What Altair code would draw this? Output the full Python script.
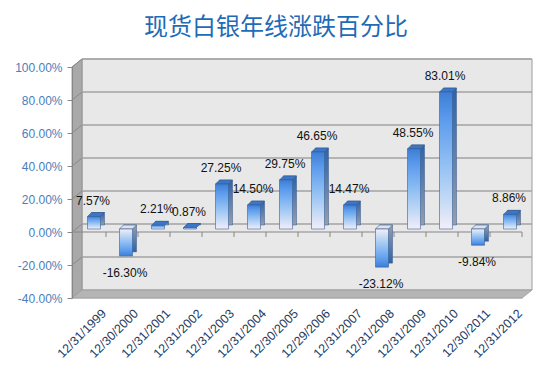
import altair as alt
import pandas as pd

# ---- data ----
dates = ["12/31/1999", "12/30/2000", "12/31/2001", "12/31/2002", "12/31/2003",
         "12/31/2004", "12/30/2005", "12/29/2006", "12/31/2007", "12/31/2008",
         "12/31/2009", "12/31/2010", "12/30/2011", "12/31/2012"]
pct = [7.57, -16.30, 2.21, 0.87, 27.25, 14.50, 29.75, 46.65, 14.47, -23.12,
       48.55, 83.01, -9.84, 8.86]
y_ticks = [-40, -20, 0, 20, 40, 60, 80, 100]
grid_levels = [-20, 0, 20, 40, 60, 80, 100]
title_text = "现货白银年线涨跌百分比"

# ---- geometry / style ----
W, H = 450, 231
DX, DY = 10, -8          # depth of the 3D box
FONT = "Liberation Sans"

df = pd.DataFrame({"date": dates, "v": pct})
df["top"] = df["v"].clip(lower=0)
df["label"] = [f"{v:.2f}%" for v in pct]

xscale = alt.Scale(domain=dates, range=[2, W], paddingInner=0, paddingOuter=0)
yscale = alt.Scale(domain=[-40, 100], nice=False, zero=False)

yaxis = alt.Axis(
    values=y_ticks, title=None, grid=False, zindex=1,
    labelExpr="(datum.value < 0 ? '-' : '') + format(abs(datum.value), '.2f') + '%'",
    domainColor="#868686", tickColor="#868686", tickSize=5, labelPadding=5,
    labelColor="#4a7ebb", labelFont=FONT, labelFontSize=12)
xaxis = alt.Axis(
    title=None, domain=False, ticks=False, labelAngle=-45, labelAlign="right",
    labelBaseline="middle", labelOffset=14, labelPadding=13, labelOverlap=False,
    labelColor="#1f3864", labelFont=FONT, labelFontSize=12.5)

X = alt.X("date:N", scale=xscale, axis=xaxis)
Y = alt.Y("v:Q", scale=yscale, axis=yaxis)

one = pd.DataFrame({"k": [0]})
grid_df = pd.DataFrame({"t": grid_levels})

# back wall
back = alt.Chart(one).mark_rect(fill="#e8e8e8", stroke="#9c9c9c", strokeWidth=1).encode(
    x=alt.value(DX), x2=alt.value(W + DX), y=alt.value(DY), y2=alt.value(H + DY))

# left wall (parallelogram)
left_path = f"M0,0L{DX},{DY}L{DX},{H + DY}L0,{H}Z"
left = alt.Chart(one).mark_point(shape=left_path, size=4, filled=True, fill="#a9a9a9",
                                 stroke="#8e8e8e", strokeWidth=0.8, opacity=1).encode(
    x=alt.value(0), y=alt.value(0))

# floor (parallelogram)
floor_path = f"M0,{H}L{W},{H}L{W + DX},{H + DY}L{DX},{H + DY}Z"
floor = alt.Chart(one).mark_point(shape=floor_path, size=4, filled=True, fill="#b5b5b5",
                                  stroke="#9a9a9a", strokeWidth=0.8, opacity=1).encode(
    x=alt.value(0), y=alt.value(0))

# gridlines on back wall
grid = alt.Chart(grid_df).mark_rule(color="#a3a3a3", strokeWidth=1.3, yOffset=DY).encode(
    y=alt.Y("t:Q", scale=yscale, axis=yaxis), x=alt.value(DX), x2=alt.value(W + DX))

# gridline slants on left wall
slant = alt.Chart(grid_df).mark_point(shape=f"M0,0L{DX},{DY}", size=4, filled=False,
                                      stroke="#8a8a8a", strokeWidth=1, opacity=1).encode(
    y=alt.Y("t:Q", scale=yscale, axis=yaxis), x=alt.value(0))

# category axis line at 0 with ticks between categories
zero_line = alt.Chart(one).mark_rule(color="#868686", strokeWidth=1).encode(
    y=alt.datum(0, scale=yscale, axis=yaxis), x=alt.value(0), x2=alt.value(W))
cat_ticks = alt.Chart(df).mark_rule(color="#868686", strokeWidth=1, y2Offset=5).encode(
    x=alt.X("date:N", scale=xscale, bandPosition=1, axis=xaxis),
    y=alt.datum(0, scale=yscale, axis=yaxis), y2=alt.datum(0))

# gradients
stops_front = [
    alt.GradientStop(color="#f4eef9", offset=0), alt.GradientStop(color="#c6dbf5", offset=0.2),
    alt.GradientStop(color="#8dbdf3", offset=0.5), alt.GradientStop(color="#5c9bec", offset=0.8),
    alt.GradientStop(color="#3d7ed6", offset=1)]
stops_side = [alt.GradientStop(color="#959eac", offset=0), alt.GradientStop(color="#2f62a6", offset=1)]
front_pos = alt.Gradient(gradient="linear", x1=0, x2=0, y1=1, y2=0, stops=stops_front)
front_neg = alt.Gradient(gradient="linear", x1=0, x2=0, y1=0, y2=1, stops=stops_front)
side_pos = alt.Gradient(gradient="linear", x1=0, x2=0, y1=1, y2=0, stops=stops_side)
side_neg = alt.Gradient(gradient="linear", x1=0, x2=0, y1=0, y2=1, stops=stops_side)

BW = 13
FX, FY = 4, -3

side_p = alt.Chart(df).transform_filter("datum.v >= 0").mark_bar(
    size=BW, xOffset=FX + 4, x2Offset=FX + 4, yOffset=FY - 4, y2Offset=FY - 4,
    color=side_pos, stroke="#35588a", strokeWidth=0.5).encode(x=X, y=Y, y2=alt.datum(0))
side_n = alt.Chart(df).transform_filter("datum.v < 0").mark_bar(
    size=BW, xOffset=FX + 4, x2Offset=FX + 4, yOffset=FY - 4, y2Offset=FY - 4,
    color=side_neg, stroke="#35588a", strokeWidth=0.5).encode(x=X, y=Y, y2=alt.datum(0))

cap_path = f"M{-BW/2},0L{BW/2},0L{BW/2 + 4},-4L{-BW/2 + 4},-4Z"
cap = alt.Chart(df).mark_point(shape=cap_path, size=4, filled=True, opacity=1,
                               xOffset=FX, yOffset=FY, stroke="#35588a", strokeWidth=0.6).encode(
    x=X, y=alt.Y("top:Q", scale=yscale, axis=yaxis),
    fill=alt.condition("datum.v >= 0", alt.value("#3c76c6"), alt.value("#dde2ee")))

front_p = alt.Chart(df).transform_filter("datum.v >= 0").mark_bar(
    size=BW, xOffset=FX, x2Offset=FX, yOffset=FY, y2Offset=FY,
    color=front_pos, stroke="#3a5f95", strokeWidth=0.6).encode(x=X, y=Y, y2=alt.datum(0))
front_n = alt.Chart(df).transform_filter("datum.v < 0").mark_bar(
    size=BW, xOffset=FX, x2Offset=FX, yOffset=FY, y2Offset=FY,
    color=front_neg, stroke="#3a5f95", strokeWidth=0.6).encode(x=X, y=Y, y2=alt.datum(0))

lab_p = alt.Chart(df).transform_filter("datum.v >= 0").mark_text(
    baseline="bottom", dy=-12, dx=3, font=FONT, fontSize=12, color="#111111").encode(
    x=X, y=Y, text="label:N")
lab_n = alt.Chart(df).transform_filter("datum.v < 0").mark_text(
    baseline="top", dy=9, dx=3, font=FONT, fontSize=12, color="#111111").encode(
    x=X, y=Y, text="label:N")

chart = alt.layer(
    back, left, grid, slant, floor, zero_line, cat_ticks,
    side_p, side_n, cap, front_p, front_n, lab_p, lab_n
).properties(
    width=W, height=H,
    autosize=alt.AutoSizeParams(type="none"),
    padding={"left": 64, "top": 59, "right": 25, "bottom": 68},
    title=alt.TitleParams(title_text, font="Noto Sans CJK SC", fontSize=24, fontWeight="normal",
                          color="#1e6bb8", anchor="middle", frame="group", baseline="alphabetic",
                          offset=-2, dx=-21)
).configure_view(stroke=None).configure(background="white")

chart.save("out.html", embed_options={"renderer": "svg", "actions": False})
